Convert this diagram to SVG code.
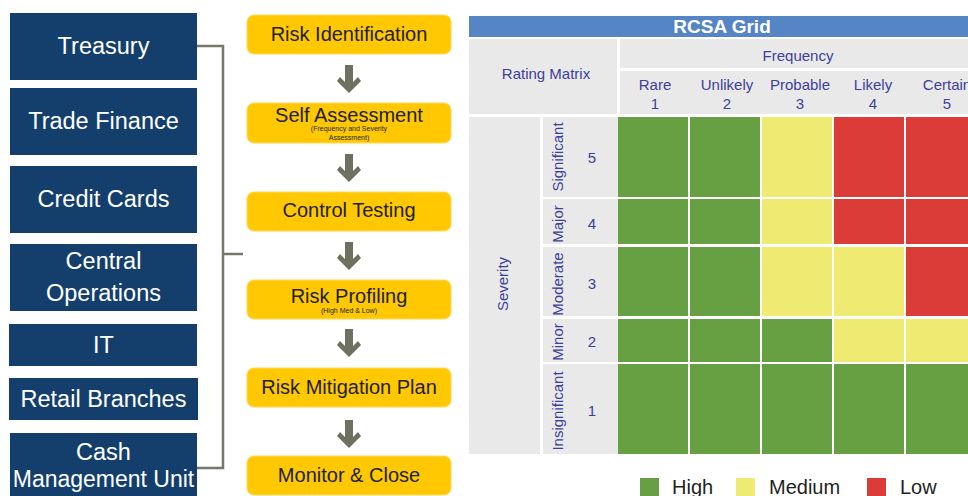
<svg xmlns="http://www.w3.org/2000/svg" xmlns:xlink="http://www.w3.org/1999/xlink" width="968" height="496" viewBox="0 0 968 496">
<style>
.unit{fill:#143f6c}
.ut{font-family:"Liberation Sans",Arial,sans-serif;font-size:23.5px;fill:#ffffff;text-anchor:middle}
.step{fill:#ffc800;stroke:#ffd95a;stroke-width:1}
.st{font-family:"Liberation Sans",Arial,sans-serif;font-size:20px;fill:#231f20;text-anchor:middle}
.ss{font-family:"Liberation Sans",Arial,sans-serif;font-size:7px;fill:#231f20;text-anchor:middle}
.hd{fill:#e9e9e9}
.lt{font-family:"Liberation Sans",Arial,sans-serif;font-size:15px;fill:#3d3f9a;text-anchor:middle}
.g{fill:#67a043}.y{fill:#eeea72}.r{fill:#dc3c38}
.lg{font-family:"Liberation Sans",Arial,sans-serif;font-size:20px;fill:#231f20}
.conn{fill:none;stroke:#76786a;stroke-width:2.5}
.arr{fill:#6f7160}
</style>
<defs>
<polygon id="arrow" points="345,0 353,0 353,17 358,12 361,16 349,28 337,16 340,12 345,17"/>
</defs>
<rect width="968" height="496" fill="#ffffff"/>

<g id="unit-treasury"><rect class="unit" x="10" y="13" width="187" height="67"/><text class="ut" x="103.5" y="54">Treasury</text></g>
<g id="unit-trade-finance"><rect class="unit" x="10" y="88" width="187" height="67"/><text class="ut" x="103.5" y="129">Trade Finance</text></g>
<g id="unit-credit-cards"><rect class="unit" x="10" y="166" width="187" height="67"/><text class="ut" x="103.5" y="207">Credit Cards</text></g>
<g id="unit-central-operations"><rect class="unit" x="10" y="244" width="187" height="67"/><text class="ut" x="103.5" y="269">Central</text><text class="ut" x="103.5" y="301">Operations</text></g>
<g id="unit-it"><rect class="unit" x="9" y="324" width="188" height="42"/><text class="ut" x="103.5" y="353">IT</text></g>
<g id="unit-retail-branches"><rect class="unit" x="9" y="378" width="189" height="42"/><text class="ut" x="103.5" y="407">Retail Branches</text></g>
<g id="unit-cash-management"><rect class="unit" x="10" y="433" width="187" height="70"/><text class="ut" x="103.5" y="460">Cash</text><text class="ut" x="103.5" y="487" style="font-size:23px">Management Unit</text></g>

<g id="step-risk-identification"><rect class="step" x="247" y="15" width="204" height="39" rx="7"/><text class="st" x="349" y="41">Risk Identification</text></g>
<g id="step-self-assessment"><rect class="step" x="247" y="103" width="204" height="40" rx="7"/><text class="st" x="349" y="122">Self Assessment</text><text class="ss" x="349" y="131">(Frequency and Severity</text><text class="ss" x="349" y="140">Assessment)</text></g>
<g id="step-control-testing"><rect class="step" x="247" y="192" width="204" height="39" rx="7"/><text class="st" x="349" y="217">Control Testing</text></g>
<g id="step-risk-profiling"><rect class="step" x="247" y="280" width="204" height="39" rx="7"/><text class="st" x="349" y="303">Risk Profiling</text><text class="ss" x="349" y="313">(High Med &amp; Low)</text></g>
<g id="step-risk-mitigation"><rect class="step" x="247" y="368" width="204" height="39" rx="7"/><text class="st" x="349" y="394">Risk Mitigation Plan</text></g>
<g id="step-monitor-close"><rect class="step" x="247" y="456" width="204" height="39" rx="7"/><text class="st" x="349" y="482">Monitor &amp; Close</text></g>

<g id="connectors">
<polyline class="conn" points="197,46 223,46 223,468 197,468"/>
<line class="conn" x1="223" y1="254" x2="243" y2="254"/>
<use class="arr" xlink:href="#arrow" y="65"/>
<use class="arr" xlink:href="#arrow" y="154"/>
<use class="arr" xlink:href="#arrow" y="242"/>
<use class="arr" xlink:href="#arrow" y="329"/>
<use class="arr" xlink:href="#arrow" y="420"/>
</g>

<g id="rcsa-grid">
<rect x="469" y="16" width="510" height="21" fill="#5585c5"/>
<text x="722" y="33" style="font-family:'Liberation Sans',Arial,sans-serif;font-size:19px;font-weight:bold;fill:#ffffff;text-anchor:middle">RCSA Grid</text>
<rect class="hd" x="469" y="39" width="148" height="75"/>
<text class="lt" x="546" y="79">Rating Matrix</text>
<rect class="hd" x="620" y="39" width="360" height="29"/>
<text class="lt" x="798" y="61">Frequency</text>
<rect class="hd" x="620" y="71" width="360" height="43"/>
<text class="lt" x="655" y="90">Rare</text><text class="lt" x="655" y="109">1</text>
<text class="lt" x="727" y="90">Unlikely</text><text class="lt" x="727" y="109">2</text>
<text class="lt" x="800" y="90">Probable</text><text class="lt" x="800" y="109">3</text>
<text class="lt" x="873" y="90">Likely</text><text class="lt" x="873" y="109">4</text>
<text class="lt" x="947" y="90">Certain</text><text class="lt" x="947" y="109">5</text>

<rect class="hd" x="469" y="117" width="71" height="337"/>
<text class="lt" transform="translate(508,284) rotate(-90)">Severity</text>
<rect class="hd" x="543" y="117" width="75" height="80"/>
<rect class="hd" x="543" y="199" width="75" height="45"/>
<rect class="hd" x="543" y="247" width="75" height="69"/>
<rect class="hd" x="543" y="319" width="75" height="43"/>
<rect class="hd" x="543" y="364" width="75" height="90"/>
<text class="lt" transform="translate(563,157) rotate(-90)">Significant</text>
<text class="lt" transform="translate(563,224) rotate(-90)">Major</text>
<text class="lt" transform="translate(563,284) rotate(-90)">Moderate</text>
<text class="lt" transform="translate(563,342) rotate(-90)">Minor</text>
<text class="lt" transform="translate(563,411) rotate(-90)">Insignificant</text>
<text class="lt" x="592" y="163">5</text>
<text class="lt" x="592" y="229">4</text>
<text class="lt" x="592" y="289">3</text>
<text class="lt" x="592" y="347">2</text>
<text class="lt" x="592" y="416">1</text>

<rect class="g" x="618" y="117" width="70" height="80"/>
<rect class="g" x="690" y="117" width="70" height="80"/>
<rect class="y" x="762" y="117" width="70" height="80"/>
<rect class="r" x="834" y="117" width="70" height="80"/>
<rect class="r" x="906" y="117" width="70" height="80"/>

<rect class="g" x="618" y="199" width="70" height="45"/>
<rect class="g" x="690" y="199" width="70" height="45"/>
<rect class="y" x="762" y="199" width="70" height="45"/>
<rect class="r" x="834" y="199" width="70" height="45"/>
<rect class="r" x="906" y="199" width="70" height="45"/>

<rect class="g" x="618" y="247" width="70" height="69"/>
<rect class="g" x="690" y="247" width="70" height="69"/>
<rect class="y" x="762" y="247" width="70" height="69"/>
<rect class="y" x="834" y="247" width="70" height="69"/>
<rect class="r" x="906" y="247" width="70" height="69"/>

<rect class="g" x="618" y="319" width="70" height="43"/>
<rect class="g" x="690" y="319" width="70" height="43"/>
<rect class="g" x="762" y="319" width="70" height="43"/>
<rect class="y" x="834" y="319" width="70" height="43"/>
<rect class="y" x="906" y="319" width="70" height="43"/>

<rect class="g" x="618" y="364" width="70" height="90"/>
<rect class="g" x="690" y="364" width="70" height="90"/>
<rect class="g" x="762" y="364" width="70" height="90"/>
<rect class="g" x="834" y="364" width="70" height="90"/>
<rect class="g" x="906" y="364" width="70" height="90"/>
</g>

<g id="legend">
<rect class="g" x="640" y="478" width="19" height="19"/><text class="lg" x="672" y="494">High</text>
<rect class="y" x="736" y="478" width="19" height="19"/><text class="lg" x="769" y="494">Medium</text>
<rect class="r" x="867" y="478" width="19" height="19"/><text class="lg" x="900" y="494">Low</text>
</g>
</svg>
